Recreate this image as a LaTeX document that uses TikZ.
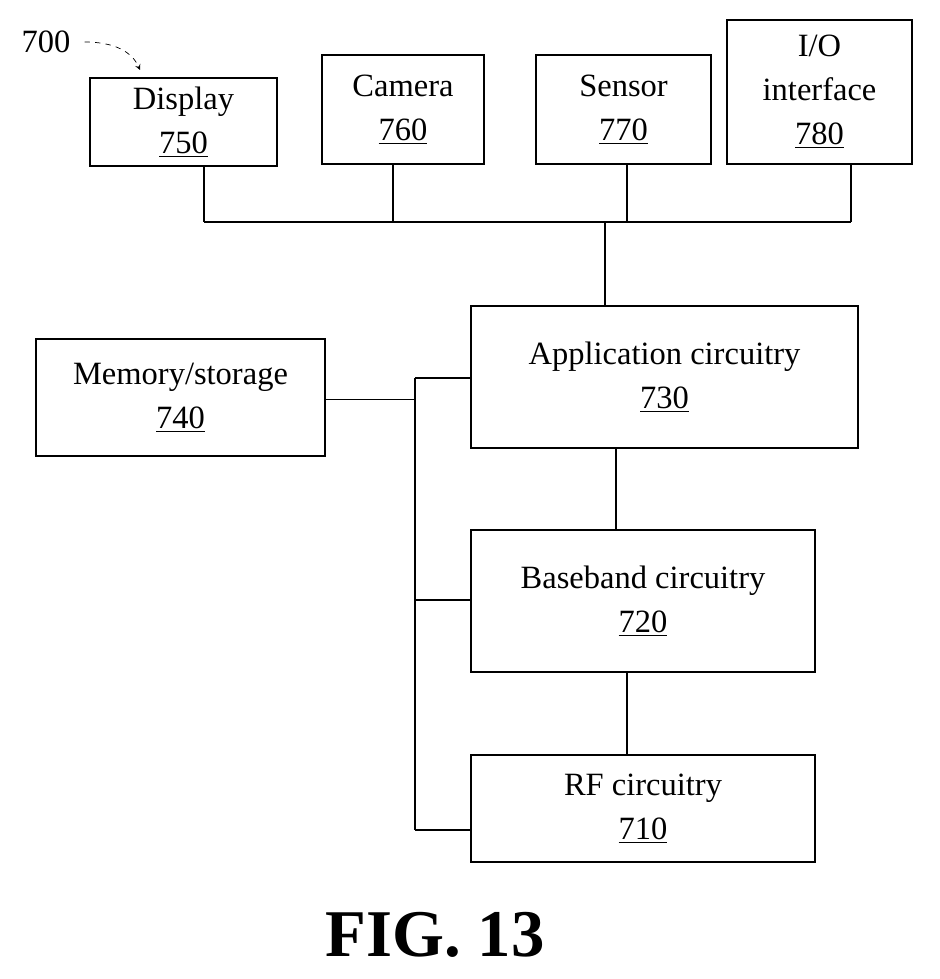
\documentclass[tikz,border=0pt]{standalone}
\usepackage{fontspec}
\setmainfont{Liberation Serif}
\usetikzlibrary{arrows,positioning,calc}

\tikzset{
  blk/.style={draw, thick, align=center, inner sep=0pt, font=\fontsize{18.5}{25}\selectfont},
  wire/.style={thick}
}

\begin{document}
\begin{tikzpicture}[x=0.02cm, y=-0.02cm]
    \useasboundingbox (0,0) rectangle (939,979);

    % Peripheral blocks
    \node[blk, minimum width=187*0.02cm, minimum height=88*0.02cm] (disp) at (183.5,122) {Display\\\underline{750}};
    \node[blk, minimum width=162*0.02cm, minimum height=109*0.02cm] (cam) at (403,109.5) {Camera\\\underline{760}};
    \node[blk, minimum width=175*0.02cm, minimum height=109*0.02cm] (sens) at (623.5,109.5) {Sensor\\\underline{770}};
    \node[blk, minimum width=185*0.02cm, minimum height=144*0.02cm] (io) at (819.5,92) {I/O\\interface\\\underline{780}};

    % Main blocks
    \node[blk, minimum width=387*0.02cm, minimum height=142*0.02cm] (app) at (664.5,377) {Application circuitry\\\underline{730}};
    \node[blk, minimum width=289*0.02cm, minimum height=117*0.02cm] (mem) at (180.5,397.5) {Memory/storage\\\underline{740}};
    \node[blk, minimum width=344*0.02cm, minimum height=142*0.02cm] (bb) at (643,601) {Baseband circuitry\\\underline{720}};
    \node[blk, minimum width=344*0.02cm, minimum height=107*0.02cm] (rf) at (643,808.5) {RF circuitry\\\underline{710}};

    % Bus to peripherals
    \coordinate (busL) at (204,222);
    \coordinate (busR) at (851,222);
    \draw[wire] (busL) -- (busR);
    \draw[wire] (disp.south -| busL) -- (busL);
    \draw[wire] (cam.south) ++(-10,0) coordinate (c1) -- (c1 |- busL);
    \draw[wire] (sens.south) ++(3.5,0) coordinate (s1) -- (s1 |- busL);
    \draw[wire] (io.south -| busR) -- (busR);
    \draw[wire] (605,222) coordinate (b1) -- (b1 |- app.north);

    % Memory link
    \coordinate (mtop) at (415,378);
    \coordinate (mbot) at (415,830);
    \draw[wire] (mem.east) ++(0,2) coordinate (m1) -- (m1 -| mtop);
    \draw[wire] (mtop) -- (mbot);
    \draw[wire] (mtop) -- (mtop -| app.west);
    \draw[wire] (415,600) coordinate (m2) -- (m2 -| bb.west);
    \draw[wire] (mbot) -- (mbot -| rf.west);

    % Chain
    \draw[wire] (616,448) coordinate (a1) -- (a1 |- bb.north);
    \draw[wire] (bb.south) ++(-16,0) coordinate (b2) -- (b2 |- rf.north);

    % Label
    \node[font=\fontsize{18.5}{22}\selectfont] (lbl) at (46,42) {700};
    \draw[->, >=stealth, dashed] (lbl.east) ++(8,0) .. controls (115,42) and (132,52) .. (140,70);

    \node[font=\bfseries\fontsize{38}{44}\selectfont] (fig) at (435,935) {FIG. 13};
\end{tikzpicture}
\end{document}
